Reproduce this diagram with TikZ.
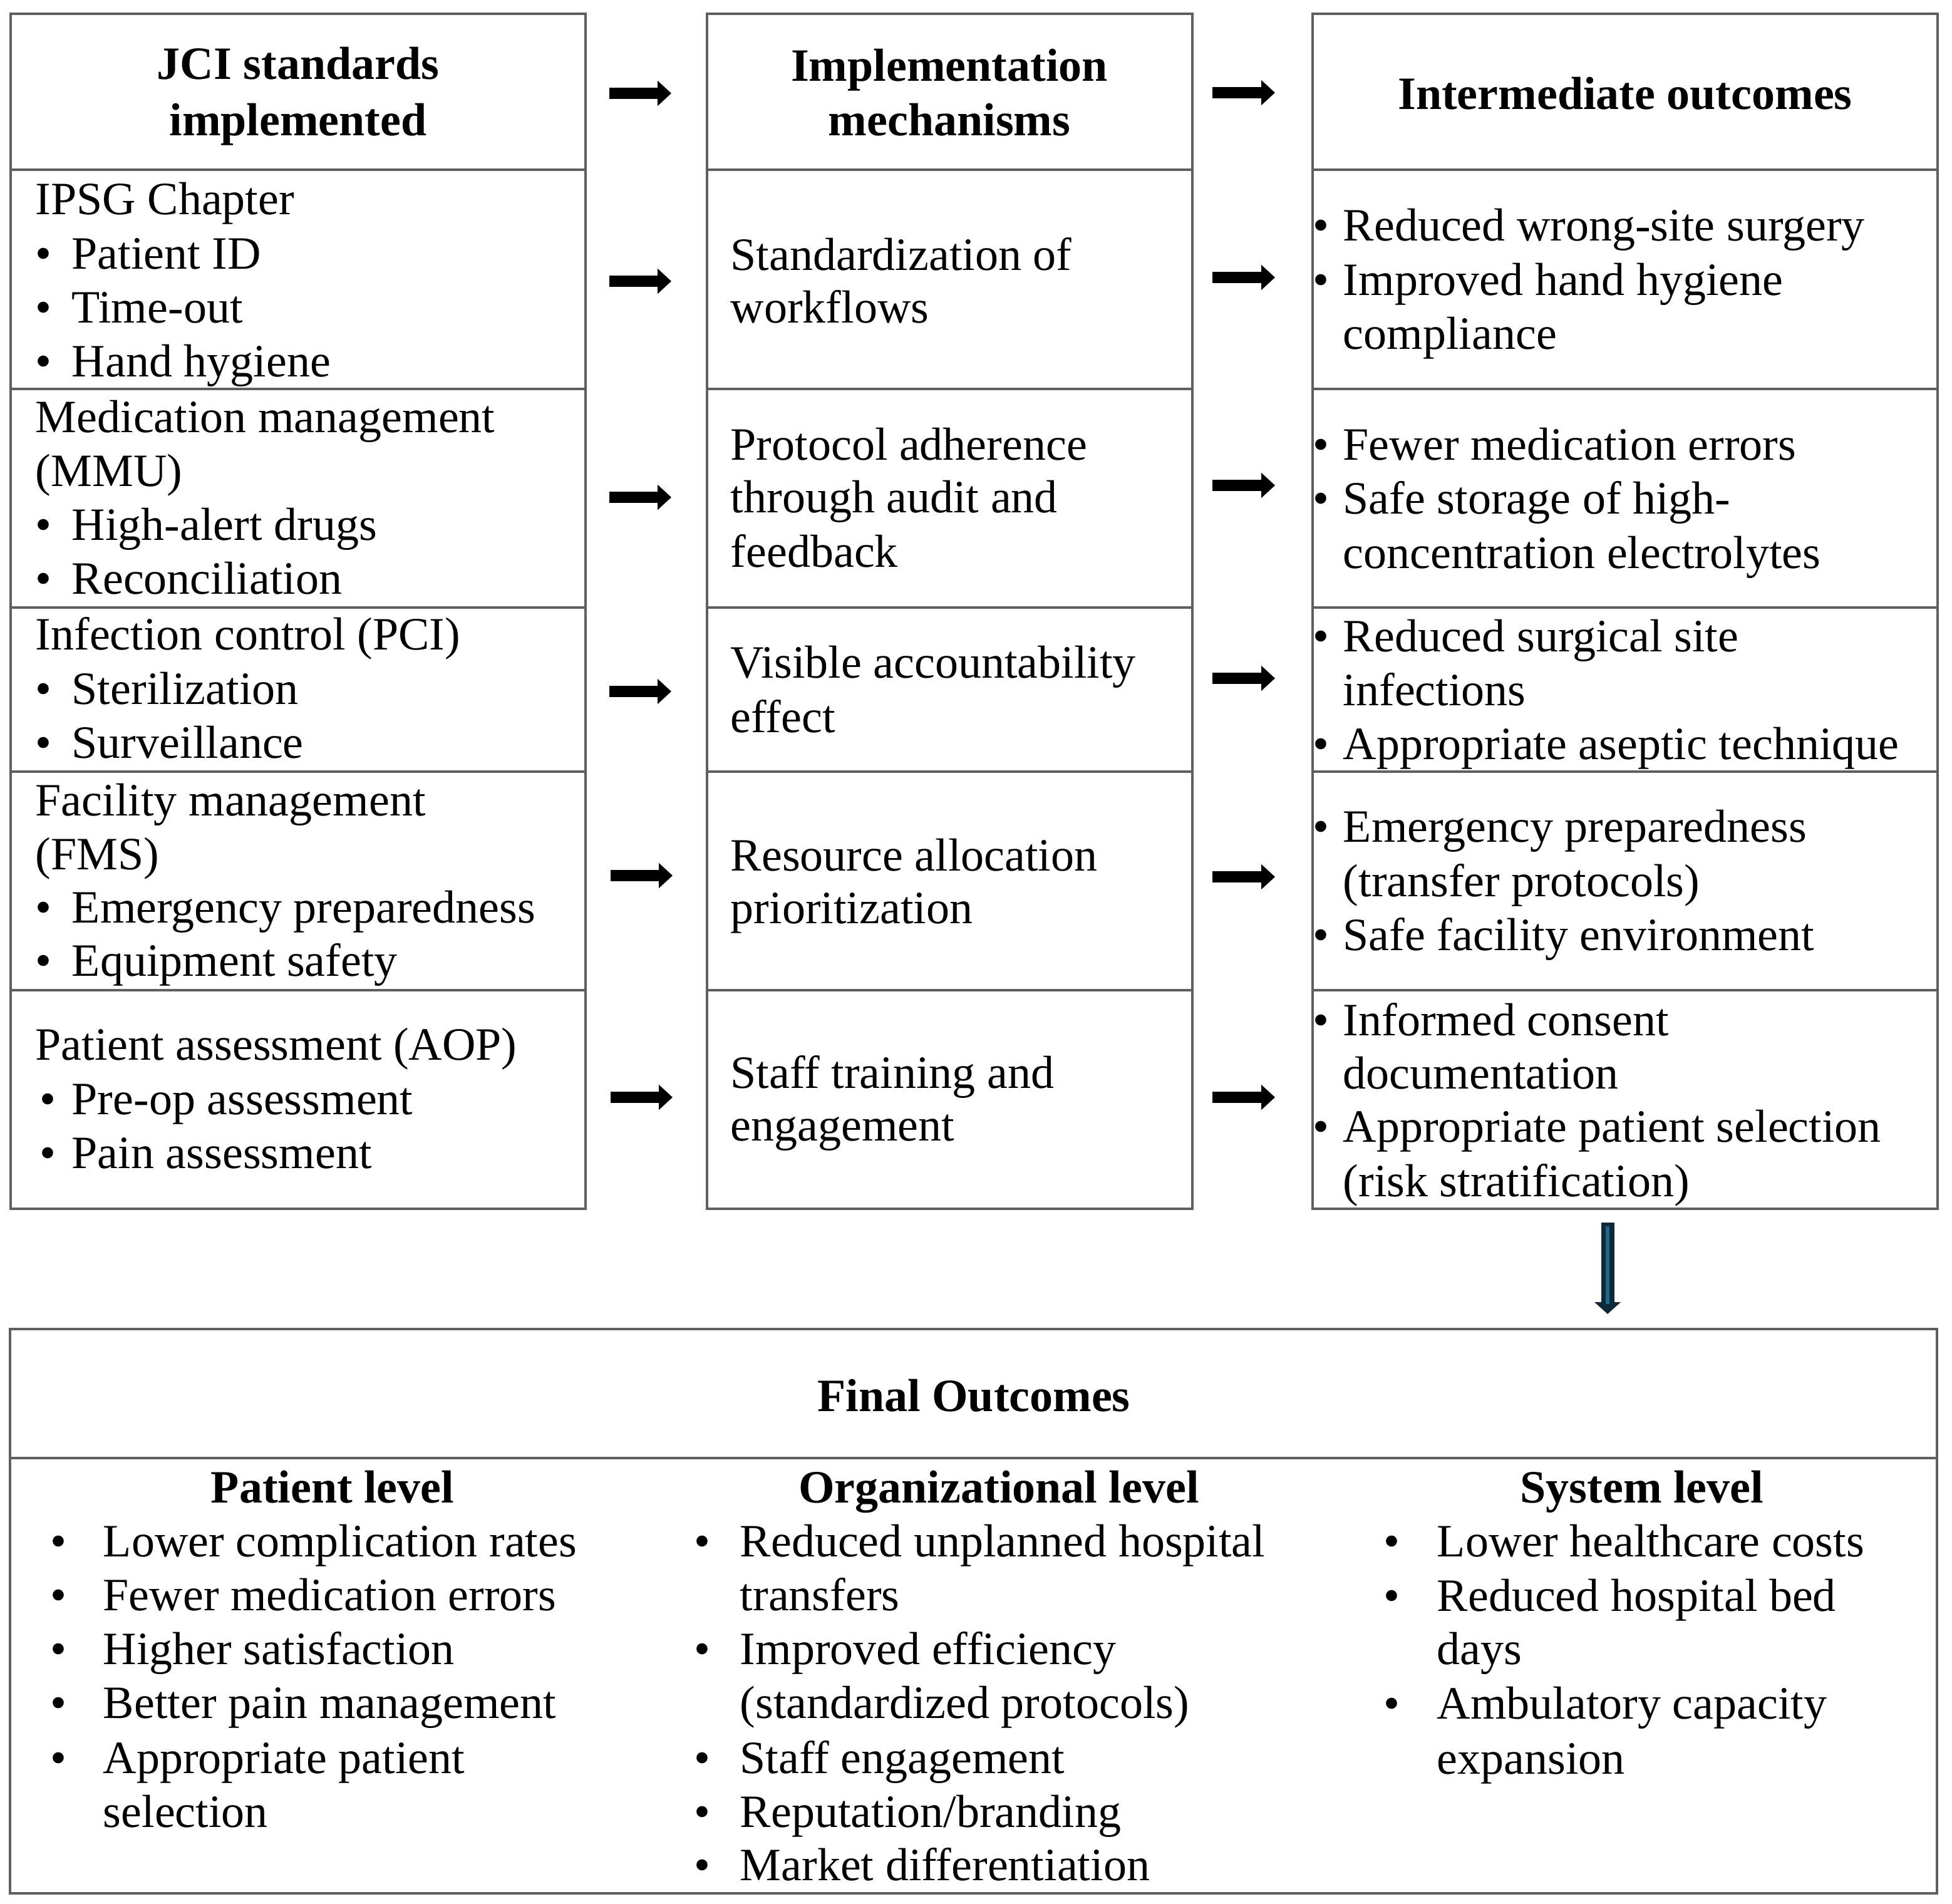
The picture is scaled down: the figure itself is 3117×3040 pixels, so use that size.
\documentclass[tikz,border=0pt]{standalone}
\usepackage{fontspec}
\setmainfont{Liberation Serif}
\usetikzlibrary{arrows.meta}
\definecolor{lineclr}{RGB}{95,95,95}
\definecolor{darrowclr}{RGB}{14,42,58}
\definecolor{darrowin}{RGB}{30,105,135}
\tikzset{
 cell/.style={draw=lineclr, line width=0.8pt, inner sep=0pt, rectangle},
 txt/.style={anchor=base west, inner sep=0pt, font=\fontsize{18.5}{21.5}\selectfont},
 hdr/.style={anchor=base, inner sep=0pt, font=\fontsize{18.5}{21.5}\selectfont\bfseries},
 bul/.style={anchor=base, inner sep=0pt, font=\fontsize{18.5}{21.5}\selectfont},
 harrow/.style={line width=4.5pt, -{Triangle[length=5.5pt,width=9.75pt]}},
 varrow/.style={draw=darrowclr, line width=5.25pt, -{Triangle[length=4.75pt,width=10.25pt]}},
 varrowin/.style={draw=darrowin, line width=1.5pt},
}
\newcommand\CELL[5]{\node[cell, minimum width={(#4-#2)*0.25pt}, minimum height={(#5-#3)*0.25pt}] (#1) at ({(#2+#4)/2},{(#3+#5)/2}) {};}
\newcommand\TXT[4]{\node[txt] (#1) at (#2,#3) {#4};}
\newcommand\HDR[4]{\node[hdr] (#1) at (#2,#3) {#4};}
\newcommand\BT[5]{\node[bul] (#1b) at (#2,#4) {•}; \node[txt] (#1) at (#3,#4) {#5};}
\begin{document}
\begin{tikzpicture}[x=0.25pt,y=-0.25pt]
\useasboundingbox (0,0) rectangle (3117,3040);
% ---- cells ----
\CELL{L0}{17}{22}{935}{271}
\CELL{L1}{17}{271}{935}{621}
\CELL{L2}{17}{621}{935}{970}
\CELL{L3}{17}{970}{935}{1232}
\CELL{L4}{17}{1232}{935}{1581}
\CELL{L5}{17}{1581}{935}{1930}
\CELL{M0}{1129}{22}{1904}{271}
\CELL{M1}{1129}{271}{1904}{621}
\CELL{M2}{1129}{621}{1904}{970}
\CELL{M3}{1129}{970}{1904}{1232}
\CELL{M4}{1129}{1232}{1904}{1581}
\CELL{M5}{1129}{1581}{1904}{1930}
\CELL{R0}{2096}{22}{3094}{271}
\CELL{R1}{2096}{271}{3094}{621}
\CELL{R2}{2096}{621}{3094}{970}
\CELL{R3}{2096}{970}{3094}{1232}
\CELL{R4}{2096}{1232}{3094}{1581}
\CELL{R5}{2096}{1581}{3094}{1930}
\CELL{F0}{16}{2122}{3093}{2328}
\CELL{F1}{16}{2328}{3093}{3023}
% ---- headers ----
\HDR{h1a}{476}{127}{JCI standards}
\HDR{h1b}{476}{217}{implemented}
\HDR{h2a}{1516}{130}{Implementation}
\HDR{h2b}{1516}{217}{mechanisms}
\HDR{h3a}{2595}{175}{Intermediate outcomes}
% ---- left column ----
\TXT{l1a}{56}{342}{IPSG Chapter}
\BT{l1b}{69}{114}{429}{Patient ID}
\BT{l1c}{69}{114}{515}{Time-out}
\BT{l1d}{69}{114}{601}{Hand hygiene}
\TXT{l2a}{56}{690}{Medication management}
\TXT{l2b}{56}{776}{(MMU)}
\BT{l2c}{69}{114}{862}{High-alert drugs}
\BT{l2d}{69}{114}{948}{Reconciliation}
\TXT{l3a}{56}{1037}{Infection control (PCI)}
\BT{l3b}{69}{114}{1124}{Sterilization}
\BT{l3c}{69}{114}{1210}{Surveillance}
\TXT{l4a}{56}{1302}{Facility management}
\TXT{l4b}{56}{1388}{(FMS)}
\BT{l4c}{69}{114}{1473}{Emergency preparedness}
\BT{l4d}{69}{114}{1558}{Equipment safety}
\TXT{l5a}{56}{1692}{Patient assessment (AOP)}
\BT{l5b}{76}{114}{1779}{Pre-op assessment}
\BT{l5c}{76}{114}{1865}{Pain assessment}
% ---- middle column ----
\TXT{m1a}{1166}{431}{Standardization of}
\TXT{m1b}{1166}{515}{workflows}
\TXT{m2a}{1166}{734}{Protocol adherence}
\TXT{m2b}{1166}{818}{through audit and}
\TXT{m2c}{1166}{905}{feedback}
\TXT{m3a}{1166}{1082}{Visible accountability}
\TXT{m3b}{1166}{1169}{effect}
\TXT{m4a}{1166}{1390}{Resource allocation}
\TXT{m4b}{1166}{1474}{prioritization}
\TXT{m5a}{1166}{1737}{Staff training and}
\TXT{m5b}{1166}{1821}{engagement}
% ---- right column ----
\BT{r1a}{2109}{2144}{384}{Reduced wrong-site surgery}
\BT{r1b}{2109}{2144}{471}{Improved hand hygiene}
\TXT{r1c}{2144}{557}{compliance}
\BT{r2a}{2109}{2144}{734}{Fewer medication errors}
\BT{r2b}{2109}{2144}{820}{Safe storage of high-}
\TXT{r2c}{2144}{907}{concentration electrolytes}
\BT{r3a}{2109}{2144}{1040}{Reduced surgical site}
\TXT{r3b}{2144}{1126}{infections}
\BT{r3c}{2109}{2144}{1212}{Appropriate aseptic technique}
\BT{r4a}{2109}{2144}{1344}{Emergency preparedness}
\TXT{r4b}{2144}{1431}{(transfer protocols)}
\BT{r4c}{2109}{2144}{1517}{Safe facility environment}
\BT{r5a}{2109}{2144}{1653}{Informed consent}
\TXT{r5b}{2144}{1738}{documentation}
\BT{r5c}{2109}{2144}{1823}{Appropriate patient selection}
\TXT{r5d}{2144}{1910}{(risk stratification)}
% ---- final outcomes ----
\HDR{fh}{1555}{2253}{Final Outcomes}
\HDR{fp}{531}{2399}{Patient level}
\HDR{fo}{1595}{2399}{Organizational level}
\HDR{fs}{2622}{2399}{System level}
\BT{p1}{93}{164}{2485}{Lower complication rates}
\BT{p2}{93}{164}{2571}{Fewer medication errors}
\BT{p3}{93}{164}{2657}{Higher satisfaction}
\BT{p4}{93}{164}{2743}{Better pain management}
\BT{p5}{93}{164}{2831}{Appropriate patient}
\TXT{p6}{164}{2917}{selection}
\BT{o1}{1121}{1181}{2485}{Reduced unplanned hospital}
\TXT{o2}{1181}{2571}{transfers}
\BT{o3}{1121}{1181}{2657}{Improved efficiency}
\TXT{o4}{1181}{2743}{(standardized protocols)}
\BT{o5}{1121}{1181}{2831}{Staff engagement}
\BT{o6}{1121}{1181}{2917}{Reputation/branding}
\BT{o7}{1121}{1181}{3002}{Market differentiation}
\BT{s1}{2222}{2294}{2485}{Lower healthcare costs}
\BT{s2}{2222}{2294}{2572}{Reduced hospital bed}
\TXT{s3}{2294}{2657}{days}
\BT{s4}{2222}{2294}{2744}{Ambulatory capacity}
\TXT{s5}{2294}{2832}{expansion}
% ---- arrows ----
\coordinate (a0s) at (973,149);  \coordinate (a0e) at (1072,149);
\coordinate (b0s) at (1936,148); \coordinate (b0e) at (2036,148);
\coordinate (a1s) at (973,449);  \coordinate (a1e) at (1072,449);
\coordinate (b1s) at (1936,443); \coordinate (b1e) at (2036,443);
\coordinate (a2s) at (973,794);  \coordinate (a2e) at (1072,794);
\coordinate (b2s) at (1936,775); \coordinate (b2e) at (2036,775);
\coordinate (a3s) at (973,1104); \coordinate (a3e) at (1072,1104);
\coordinate (b3s) at (1936,1083);\coordinate (b3e) at (2036,1083);
\coordinate (a4s) at (975,1398); \coordinate (a4e) at (1074,1398);
\coordinate (b4s) at (1936,1400);\coordinate (b4e) at (2036,1400);
\coordinate (a5s) at (975,1752); \coordinate (a5e) at (1074,1752);
\coordinate (b5s) at (1936,1752);\coordinate (b5e) at (2036,1752);
\foreach \i in {0,...,5}{
  \draw[harrow] (a\i s) -- (a\i e);
  \draw[harrow] (b\i s) -- (b\i e);
}
\coordinate (ds) at (2567,1952); \coordinate (de) at (2567,2098);
\coordinate (dm) at (2567,2082);
\draw[varrow] (ds) -- (de);
\draw[varrowin] ([yshift=-1.5pt]ds) -- (dm);
\end{tikzpicture}
\end{document}
